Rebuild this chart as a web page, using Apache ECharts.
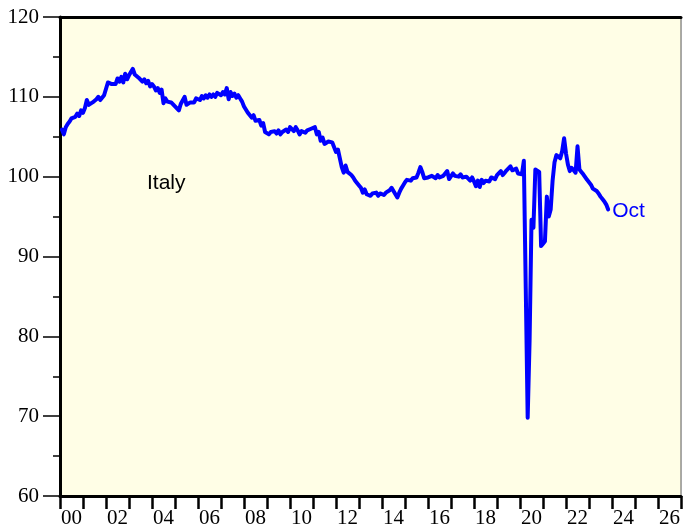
<!DOCTYPE html>
<html>
<head>
<meta charset="utf-8">
<script src="https://cdn.jsdelivr.net/npm/echarts@6/dist/echarts.min.js"></script>
<style>
  html, body { margin: 0; padding: 0; background: #fff; }
  #chart { width: 683px; height: 529px; }
</style>
</head>
<body>
<div id="chart"></div>
<script>
// first value is Jan 2000, one value per month, last is Oct 2023
const startYear = 2000
const lastLabel = 'Oct'
const italy = [
  105.9, 105.3, 106.2, 106.6, 106.9, 107.3, 107.1, 107.5, 107.9, 107.6, 108.3, 108.0, // 2000
  108.6, 109.6, 109.0, 108.8, 109.3, 109.1, 109.7, 110.0, 109.6, 109.8, 110.2, 110.4, // 2001
  111.8, 112.0, 111.6, 111.8, 111.6, 112.3, 111.9, 112.5, 111.8, 112.9, 112.2, 112.7, // 2002
  112.7, 113.5, 112.8, 112.6, 112.4, 112.5, 111.9, 112.2, 111.7, 112.0, 111.3, 111.6, // 2003
  111.3, 110.8, 111.1, 110.5, 110.9, 109.2, 109.8, 109.4, 109.6, 109.3, 109.5, 108.8, // 2004
  108.6, 108.3, 109.1, 109.3, 110.0, 109.0, 108.8, 109.3, 109.5, 109.3, 109.8, 109.9, // 2005
  109.6, 110.1, 109.8, 110.2, 109.9, 110.3, 110.0, 110.3, 110.0, 110.5, 110.6, 110.2, // 2006
  110.6, 110.3, 111.1, 109.7, 110.6, 110.1, 110.4, 109.9, 110.2, 109.8, 109.4, 108.8, // 2007
  108.6, 108.0, 107.9, 107.4, 107.7, 107.0, 106.8, 107.1, 106.4, 106.7, 105.6, 105.8, // 2008
  105.3, 105.6, 105.4, 105.7, 105.4, 105.8, 105.3, 105.6, 105.5, 105.9, 105.6, 106.2, // 2009
  106.0, 105.7, 106.2, 105.8, 105.3, 105.7, 105.6, 105.5, 105.8, 105.7, 106.0, 106.1, // 2010
  106.2, 105.3, 105.6, 104.5, 104.9, 104.1, 104.0, 104.4, 104.5, 104.3, 104.2, 103.1, // 2011
  103.4, 103.2, 101.2, 100.5, 101.4, 100.6, 100.4, 100.2, 99.9, 99.5, 99.3, 98.9,     // 2012
  98.6, 98.0, 98.4, 97.8, 98.0, 97.6, 97.9, 97.7, 98.0, 97.6, 97.9, 97.8,             // 2013
  97.7, 98.0, 98.1, 98.3, 98.6, 98.2, 97.8, 97.4, 98.0, 98.5, 98.9, 99.3,             // 2014
  99.6, 99.7, 99.5, 99.8, 99.7, 99.9, 100.5, 101.2, 100.6, 99.8, 100.0, 99.9,         // 2015
  99.8, 100.1, 100.2, 99.8, 100.2, 99.9, 99.7, 100.1, 99.9, 100.7, 99.7, 99.6,        // 2016
  100.4, 100.1, 100.3, 100.0, 100.3, 99.9, 100.1, 100.0, 99.8, 99.5, 99.9, 99.4,      // 2017
  98.8, 99.5, 98.7, 99.6, 99.2, 99.5, 99.7, 99.4, 99.9, 100.0, 99.7, 100.2,           // 2018
  100.4, 100.7, 100.2, 100.5, 100.8, 100.9, 101.3, 100.8, 100.7, 101.0, 100.4, 100.5, // 2019
  100.3, 102.0, 86.0, 69.8, 79.5, 94.6, 93.6, 100.9, 100.8, 100.6, 91.3, 91.6,        // 2020
  91.9, 97.5, 95.0, 95.9, 99.5, 101.8, 102.7, 102.9, 102.3, 103.2, 104.8, 102.9,      // 2021
  101.5, 100.7, 101.1, 100.8, 100.5, 103.8, 100.9, 100.6, 100.3, 100.2, 99.6, 99.3,   // 2022
  99.0, 98.5, 98.3, 98.2, 97.9, 97.5, 97.2, 96.9, 96.5, 95.9                          // 2023
]
// x axis: one band per year, label only on even years
const yearBands = ['00', '01', '02', '03', '04', '05', '06', '07', '08', '09', '10', '11', '12', '13',
  '14', '15', '16', '17', '18', '19', '20', '21', '22', '23', '24', '25', '26']
const yMin = 60
const yMax = 120
const yStep = 10

// monthly points sit at the end of their month
let points = italy.map((v, i) => [startYear + (i + 1) / 12, v])

let myChart = echarts.init(document.getElementById('chart'))
myChart.setOption({
  animation: false,
  grid: {
    left: 60,
    top: 17,
    right: 1,
    bottom: 32,
    show: true,
    backgroundColor: '#fffee6',
    borderColor: '#555',
    borderWidth: 1
  },
  graphic: [{
    type: 'text',
    left: 147,
    top: 173,
    style: {
      text: 'Italy',
      font: '21px "Liberation Sans", Arial, sans-serif',
      fill: '#000'
    }
  }],
  xAxis: [
    {
      // value axis used to place the monthly data
      type: 'value',
      min: startYear,
      max: startYear + yearBands.length,
      show: false
    },
    {
      // category axis for ticks between years and centred labels
      type: 'category',
      data: yearBands,
      position: 'bottom',
      boundaryGap: true,
      axisLine: { lineStyle: { color: '#000', width: 3 } },
      axisTick: {
        show: true,
        inside: false,
        interval: 0,
        length: 13,
        lineStyle: { color: '#000', width: 2.5 }
      },
      axisLabel: {
        interval: 0,
        margin: 12,
        color: '#000',
        fontSize: 21,
        fontFamily: '"Liberation Serif", "Times New Roman", serif',
        formatter: function (v, i) { return i % 2 === 0 ? v : '' }
      },
      splitLine: { show: false }
    },
    {
      // top border line
      type: 'value',
      position: 'top',
      min: 0,
      max: 1,
      axisLine: { show: true, lineStyle: { color: '#000', width: 3 } },
      axisTick: { show: false },
      axisLabel: { show: false },
      splitLine: { show: false }
    }
  ],
  yAxis: {
    type: 'value',
    min: yMin,
    max: yMax,
    interval: yStep,
    axisLine: { show: true, lineStyle: { color: '#000', width: 3 } },
    axisTick: {
      show: true,
      length: 17,
      lineStyle: { color: '#000', width: 1.5 }
    },
    minorTick: {
      show: true,
      splitNumber: 2,
      length: 7,
      lineStyle: { color: '#000', width: 1.5 }
    },
    axisLabel: {
      margin: 21,
      color: '#000',
      fontSize: 21,
      fontFamily: '"Liberation Serif", "Times New Roman", serif'
    },
    splitLine: { show: false }
  },
  series: [{
    name: 'Italy',
    type: 'line',
    xAxisIndex: 0,
    data: points,
    symbol: 'none',
    lineStyle: { color: '#0000ff', width: 4, cap: 'round', join: 'round' },
    endLabel: {
      show: true,
      formatter: lastLabel,
      color: '#0000ff',
      fontSize: 21,
      distance: 4,
      offset: [0, 2],
      fontFamily: '"Liberation Sans", Arial, sans-serif'
    }
  }]
})
</script>
</body>
</html>
